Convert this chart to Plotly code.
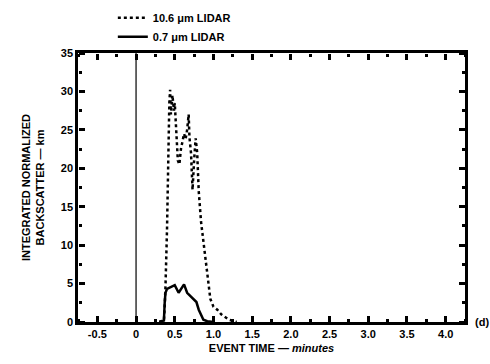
import plotly.graph_objects as go

# 10.6 um LIDAR (dotted)
x_co2 = [0.30, 0.36, 0.37, 0.38, 0.40, 0.41, 0.42, 0.43, 0.44, 0.45, 0.47, 0.49, 0.50, 0.52, 0.54,
         0.56, 0.58, 0.60, 0.62, 0.64, 0.66, 0.68, 0.69, 0.71, 0.73, 0.75, 0.77, 0.79, 0.81, 0.84,
         0.87, 0.90, 0.93, 0.96, 1.00, 1.05, 1.10, 1.15, 1.20, 1.30]
y_co2 = [0.0, 0.2, 2.0, 4.5, 12.0, 20.0, 26.0, 28.5, 30.2, 27.0, 29.5, 27.5, 28.5, 24.0, 21.0,
         20.5, 22.5, 23.5, 24.5, 23.8, 25.0, 27.0, 24.0, 22.0, 17.2, 21.0, 23.9, 22.0, 17.0, 13.0,
         10.5, 8.0, 5.5, 3.0, 2.0, 1.6, 1.0, 0.6, 0.3, 0.0]

# 0.7 um LIDAR (solid)
x_ruby = [0.30, 0.36, 0.37, 0.38, 0.40, 0.45, 0.50, 0.55, 0.58, 0.62, 0.66, 0.70, 0.74, 0.78,
          0.81, 0.84, 0.87, 0.92, 1.00]
y_ruby = [0.0, 0.2, 2.5, 3.8, 4.3, 4.5, 4.8, 3.8, 4.3, 4.9, 3.8, 3.4, 3.1, 2.6,
          1.6, 0.9, 0.3, 0.1, 0.0]

x_ticks = [-0.5, 0, 0.5, 1.0, 1.5, 2.0, 2.5, 3.0, 3.5, 4.0]
x_ticktext = ["-0.5", "0", "0.5", "1.0", "1.5", "2.0", "2.5", "3.0", "3.5", "4.0"]
y_ticks = [0, 5, 10, 15, 20, 25, 30, 35]
y_ticktext = ["0", "5", "10", "15", "20", "25", "30", "35"]

X_RANGE = [-0.75, 4.25]
Y_RANGE = [0, 35]
FONT = "Liberation Sans"

fig = go.Figure()
fig.add_trace(go.Scatter(x=x_co2, y=y_co2, mode="lines", name="<b>10.6 μm LIDAR</b>",
                         line=dict(color="black", width=2.5, dash="dot")))
fig.add_trace(go.Scatter(x=x_ruby, y=y_ruby, mode="lines", name="<b>0.7 μm LIDAR</b>",
                         line=dict(color="black", width=2.5)))
# empty helper traces so the tick-only overlay axes are drawn
fig.add_trace(go.Scatter(x=[None], y=[None], xaxis="x2", yaxis="y2", showlegend=False,
                         hoverinfo="skip"))
fig.add_trace(go.Scatter(x=[None], y=[None], xaxis="x3", yaxis="y3", showlegend=False,
                         hoverinfo="skip"))

fig.add_vline(x=0, line=dict(color="black", width=1.2))

tick_style = dict(ticks="outside", tickwidth=2.5, tickcolor="#000000", ticklen=6,
                  showline=False, showgrid=False, zeroline=False, showticklabels=False,
                  automargin=False)

fig.update_layout(
    xaxis=dict(range=X_RANGE, tickvals=x_ticks,
               ticktext=["<b>%s</b>" % t for t in x_ticktext],
               showline=True, linecolor="black", linewidth=2.5, mirror=True,
               ticks="", showgrid=False, zeroline=False, automargin=False,
               tickfont=dict(family=FONT, size=11, color="black"),
               title=dict(text="<b>EVENT TIME — <i>minutes</i></b>", standoff=6,
                          font=dict(family=FONT, size=11, color="black"))),
    yaxis=dict(range=Y_RANGE, tickvals=y_ticks,
               ticktext=["<b>%s</b>" % t for t in y_ticktext],
               showline=True, linecolor="black", linewidth=2.5, mirror=True,
               ticks="", showgrid=False, zeroline=False, automargin=False,
               tickfont=dict(family=FONT, size=11, color="black"),
               title=dict(text="<b>INTEGRATED NORMALIZED<br>BACKSCATTER — km</b>", standoff=14,
                          font=dict(family=FONT, size=11, color="black"))),
    # inward ticks: bottom edge (top-side axis placed at the bottom)
    xaxis2=dict(range=X_RANGE, tickvals=x_ticks, overlaying="x", side="top",
                anchor="free", position=0,
                minor=dict(dtick=0.25, tick0=0, ticks="outside", ticklen=3, tickwidth=2.5,
                           tickcolor="#000000"),
                **tick_style),
    # inward ticks: top edge
    xaxis3=dict(range=X_RANGE, tickvals=x_ticks, overlaying="x", side="bottom",
                anchor="free", position=1,
                minor=dict(dtick=0.25, tick0=0, ticks="outside", ticklen=3, tickwidth=2.5,
                           tickcolor="#000000"),
                **tick_style),
    # inward ticks: left edge
    yaxis2=dict(range=Y_RANGE, tickvals=y_ticks, overlaying="y", side="right",
                anchor="free", position=0,
                minor=dict(dtick=2.5, tick0=0, ticks="outside", ticklen=3, tickwidth=2.5,
                           tickcolor="#000000"),
                **tick_style),
    # inward ticks: right edge
    yaxis3=dict(range=Y_RANGE, tickvals=y_ticks, overlaying="y", side="left",
                anchor="free", position=1,
                minor=dict(dtick=2.5, tick0=0, ticks="outside", ticklen=3, tickwidth=2.5,
                           tickcolor="#000000"),
                **tick_style),
)

fig.add_annotation(text="<b>(d)</b>", xref="paper", yref="paper", x=1.02, y=0,
                   xanchor="left", yanchor="middle", showarrow=False,
                   font=dict(family=FONT, size=11, color="black"))

fig.update_layout(width=490, height=364,
                  margin=dict(l=78, r=25, t=53, b=42, autoexpand=False),
                  paper_bgcolor="white", plot_bgcolor="white",
                  showlegend=True,
                  legend=dict(x=0.09, y=1.185, xanchor="left", yanchor="top",
                              bgcolor="rgba(0,0,0,0)", tracegroupgap=0,
                              font=dict(family=FONT, size=11, color="black")),
                  font=dict(family=FONT, color="black"))

fig.write_html("out.html")
